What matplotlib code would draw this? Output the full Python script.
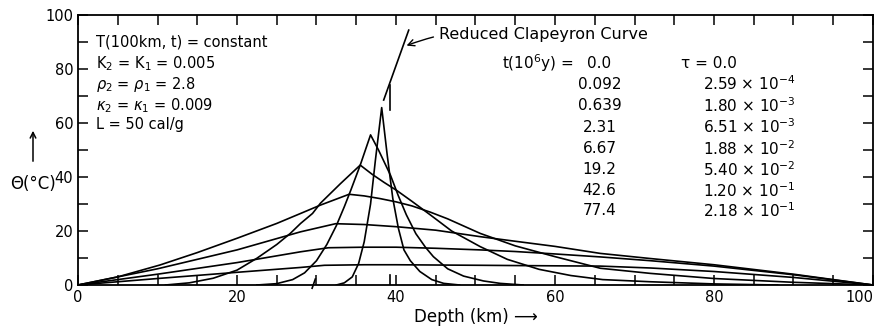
import numpy as np
import matplotlib
matplotlib.use("Agg")
import matplotlib.pyplot as plt

# time labels (10^6 y) and reduced times
t_labels = ["0.0", "0.092", "0.639", "2.31", "6.67", "19.2", "42.6", "77.4"]
tau_labels = ["0.0", "2.59", "1.80", "6.51", "1.88", "5.40", "1.20", "2.18"]
tau_exp = [None, "-4", "-3", "-3", "-2", "-2", "-1", "-1"]

# temperature profiles: depth (km), Theta (C)
a_x = [32.5, 33.5, 34.5, 35.3, 36.0, 36.8, 37.4, 38.2, 38.9, 39.6, 40.3, 41.0, 41.8, 43.0, 44.5, 46.0, 48.0]
a_y = [0, 0.8, 3, 8, 16, 30, 46, 65.7, 48, 32, 21, 13, 9, 5, 2, 0.6, 0]

b_x = [22.5, 25, 27, 28.5, 30, 31.3, 32.5, 33.5, 34.3, 35.5, 36.8, 37.8, 39.3, 40.3, 41.3, 42.5, 43.7, 44.7, 46.5, 48.5, 51, 53.1, 56]
b_y = [0, 0.5, 2, 4.5, 9, 15, 22, 29, 35, 44.4, 55.6, 50, 40.7, 33, 26, 19, 14, 10.5, 6, 3.3, 1.5, 0.6, 0]

c_x = [11, 14, 17, 20, 22.5, 25, 26.7, 28, 29.5, 30.5, 33, 35.5, 37, 38.5, 40.1, 42, 44.3, 47, 50.6, 54, 58, 62, 66, 72, 80, 88]
c_y = [0, 0.8, 2.5, 5.5, 9.9, 15, 19.1, 22.8, 26.5, 30.3, 37.5, 44.4, 41, 38, 35, 31, 26, 20, 14.2, 9.5, 5.8, 3.5, 2, 1.2, 0.4, 0]

d_x = [0, 5, 10.3, 15, 20, 25, 28, 30.5, 34.1, 36, 38, 40, 42, 44.3, 46.5, 50.6, 55, 60, 65.7, 72, 80, 90, 100]
d_y = [0, 3, 7.4, 12, 17.3, 22.8, 26.5, 29.6, 33.6, 33, 32, 30.8, 29.3, 27, 24.5, 19.1, 14.5, 10.5, 6.2, 4.3, 2.4, 1, 0]

e_x = [0, 10, 20, 28, 32.4, 36, 40, 45, 50.6, 55, 60, 65.7, 72, 80, 90, 100]
e_y = [0, 6, 13, 19.7, 22.7, 22.4, 21.6, 20.3, 17.9, 16.2, 14.3, 11.7, 9.8, 7.5, 4, 0]

f_x = [0, 10, 20, 28, 31.5, 36, 40, 45, 50.6, 55, 60, 65.7, 72, 80, 90, 100]
f_y = [0, 4, 8.3, 12.3, 13.8, 14, 14, 13.6, 13, 12.4, 11.5, 10.4, 9, 7, 3.8, 0]

g_x = [0, 10, 20, 28, 31, 36, 40, 45, 50.6, 55, 60, 65.7, 72, 80, 90, 100]
g_y = [0, 2.4, 4.7, 6.5, 7.3, 7.5, 7.5, 7.4, 7.3, 7.2, 7.1, 7.0, 6.3, 5, 2.8, 0]

curves = [(a_x, a_y), (b_x, b_y), (c_x, c_y), (d_x, d_y), (e_x, e_y), (f_x, f_y), (g_x, g_y)]

# initial spike (t = 0) drawn as two short pieces
spike_x = 39.25
spike_lo = [0, 3.7]
spike_hi = [64.8, 74]

# reduced Clapeyron curve pieces
clap_top_x = [38.45, 41.6]
clap_top_y = [68.5, 94.4]
clap_bot_x = [29.45, 29.85]
clap_bot_y = [-1.2, 2.2]

fig = plt.figure(figsize=(8.78, 3.27), dpi=100)
ax = fig.add_axes([78/878, 42/327, 795/878, 270/327])

for x, y in curves:
    ax.plot(x, y, color="black", lw=1.2)

ax.plot([spike_x, spike_x], spike_lo, color="black", lw=1.2)
ax.plot([spike_x, spike_x], spike_hi, color="black", lw=1.2)
ax.plot(clap_top_x, clap_top_y, color="black", lw=1.2)
ax.plot(clap_bot_x, clap_bot_y, color="black", lw=1.2, clip_on=False)

ax.set_xlim(0, 100)
ax.set_ylim(0, 100)
ax.set_xticks(np.arange(0, 101, 20))
ax.set_xticks(np.arange(0, 101, 5), minor=True)
ax.set_yticks(np.arange(0, 101, 20))
ax.set_yticks(np.arange(0, 101, 10), minor=True)
ax.tick_params(which="both", direction="in", top=True, right=True, length=7, width=1.1, labelsize=10.5)
ax.tick_params(which="minor", length=7)
for s in ax.spines.values():
    s.set_linewidth(1.3)
# keep the last x label inside the figure
ax.get_xticklabels()[-1].set_ha("right")

ax.set_xlabel("Depth (km) \u27f6", fontsize=12, labelpad=2)
fig.text(33/878, 1 - 184/327, "\u0398(\u00b0C)", fontsize=12, ha="center", va="center")
fig.add_artist(matplotlib.patches.FancyArrowPatch((33/878, 1 - 164/327), (33/878, 1 - 128/327),
               transform=fig.transFigure, arrowstyle="->", mutation_scale=10, lw=1.1, color="black"))

# parameter block
params = ["T(100km, t) = constant", "K$_2$ = K$_1$ = 0.005", "$\\rho_2$ = $\\rho_1$ = 2.8",
          "$\\kappa_2$ = $\\kappa_1$ = 0.009", "L = 50 cal/g"]
rows_p = [90.1, 82.1, 74.1, 66.3, 59.6]
for s, yy in zip(params, rows_p):
    ax.text(2.3, yy, s, fontsize=10.5, va="center", ha="left")

# annotation for the Clapeyron curve
ax.annotate("Reduced Clapeyron Curve", xy=(41.0, 88.3), xytext=(45.4, 92.6), fontsize=11.5,
            va="center", ha="left",
            arrowprops=dict(arrowstyle="->", color="black", lw=1.0, connectionstyle="arc3,rad=0.15"))

# time table
rows = [82.1, 74.4, 66.5, 58.5, 50.5, 42.8, 35.0, 27.5]
ax.text(62.3, rows[0], "t(10$^6$y) =", fontsize=11, va="center", ha="right")
for lab, yy in zip(t_labels, rows):
    ax.text(65.6, yy, lab, fontsize=11, va="center", ha="center")
ax.text(75.8, rows[0], "\u03c4 = 0.0", fontsize=11, va="center", ha="left")
for lab, ex, yy in zip(tau_labels[1:], tau_exp[1:], rows[1:]):
    ax.text(78.6, yy, lab + " \u00d7 10$^{" + ex + "}$", fontsize=11, va="center", ha="left")

fig.savefig("out.png", dpi=100)
